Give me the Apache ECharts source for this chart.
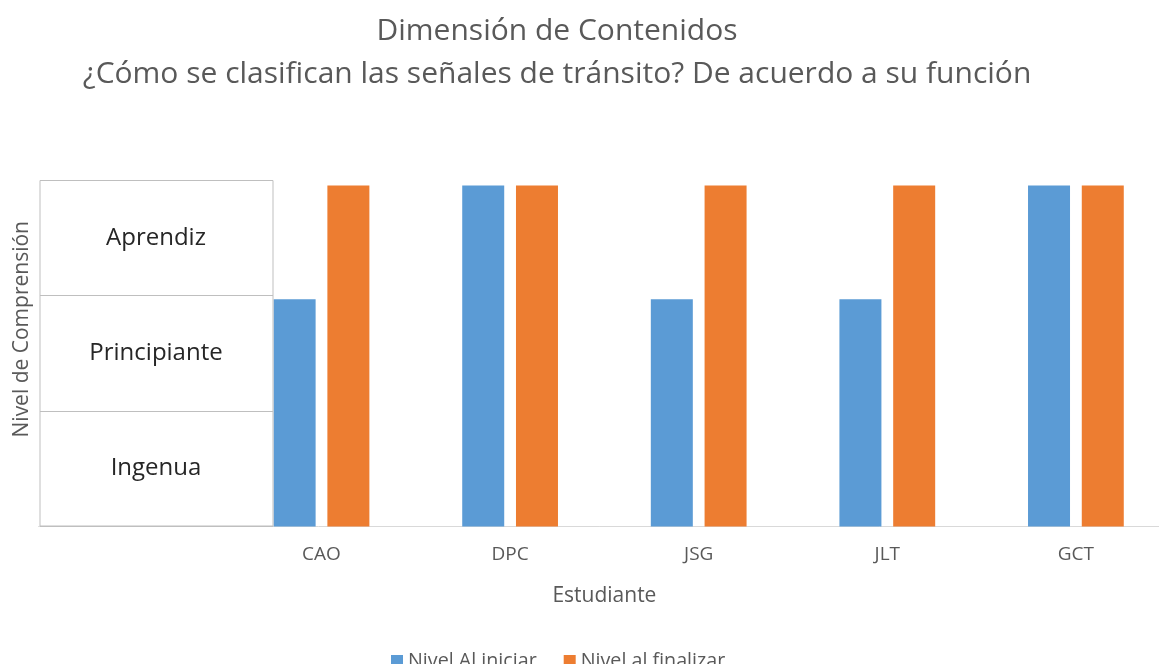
<!DOCTYPE html>
<html>
<head>
<meta charset="utf-8">
<script src="https://cdn.jsdelivr.net/npm/echarts@6/dist/echarts.min.js"></script>
<style>
html,body{margin:0;padding:0;background:#fff;}
#chart{width:1159px;height:664px;}
</style>
</head>
<body>
<div id="chart"></div>
<script>
// Data
const titleLines = ['Dimensión de Contenidos', '¿Cómo se clasifican las señales de tránsito? De acuerdo a su función'];
const students = ['CAO', 'DPC', 'JSG', 'JLT', 'GCT'];
const levels = ['Ingenua', 'Principiante', 'Aprendiz'];   // 1, 2, 3
const nivelInicial = [2, 3, 2, 2, 3];
const nivelFinal = [3, 3, 3, 3, 3];
const seriesNames = ['Nivel Al iniciar', 'Nivel al finalizar'];
const xName = 'Estudiante';
const yName = 'Nivel de Comprensión';

// The original axis has an empty first slot, covered by the level table
const xData = [''].concat(students);
const blueData = [null].concat(nivelInicial);
const orangeData = [null].concat(nivelFinal);

const FONT = 'Open Sans';
const chart = echarts.init(document.getElementById('chart'), null, {renderer: 'canvas'});
chart.setOption({
  animation: false,
  backgroundColor: '#ffffff',
  textStyle: {fontFamily: FONT},
  title: {
    text: titleLines.join('\n'),
    left: 552,
    top: 5,
    textAlign: 'center',
    textStyle: {fontFamily: FONT, fontSize: 30, fontWeight: 'normal', color: '#595959', lineHeight: 43}
  },
  legend: {
    data: seriesNames,
    left: 386,
    top: 646,
    icon: 'rect',
    itemWidth: 12,
    itemHeight: 12,
    itemGap: 27,
    textStyle: {fontFamily: FONT, fontSize: 19.7, color: '#595959'}
  },
  grid: [
    {left: 38.6, width: 1131.6, top: 185.5, height: 341, outerBoundsMode: 'none', containLabel: false},
    {left: 40, width: 233, top: 180.5, height: 345.5, outerBoundsMode: 'none', show: true, borderColor: '#bfbfbf', borderWidth: 1, backgroundColor: '#ffffff', z: 3}
  ],
  xAxis: [
    {
      gridIndex: 0, type: 'category', data: xData,
      axisTick: {show: false},
      axisLine: {lineStyle: {color: '#d9d9d9', width: 1}},
      axisLabel: {fontFamily: FONT, fontSize: 19, color: '#595959', margin: 19},
      name: xName, nameLocation: 'middle', nameGap: 59,
      nameTextStyle: {fontFamily: FONT, fontSize: 21, color: '#595959'}
    },
    {gridIndex: 1, type: 'value', show: false}
  ],
  yAxis: [
    {gridIndex: 0, type: 'value', min: 0, max: 3, show: false},
    {
      gridIndex: 1, type: 'category', data: levels,
      axisLine: {show: false}, axisTick: {show: false},
      splitLine: {show: true, lineStyle: {color: '#bfbfbf', width: 1}},
      axisLabel: {inside: true, align: 'center', margin: 116, fontFamily: FONT, fontSize: 24, color: '#262626'},
      name: yName, nameLocation: 'middle', nameGap: 7,
      nameTextStyle: {fontFamily: FONT, fontSize: 21, color: '#595959', padding: [0, 0, 0, 48]},
      z: 4
    }
  ],
  series: [
    {name: seriesNames[0], type: 'bar', xAxisIndex: 0, yAxisIndex: 0, data: blueData,
     barWidth: 42, barGap: '28%', itemStyle: {color: '#5B9BD5'}},
    {name: seriesNames[1], type: 'bar', xAxisIndex: 0, yAxisIndex: 0, data: orangeData,
     barWidth: 42, barGap: '28%', itemStyle: {color: '#ED7D31'}}
  ]
});
</script>
</body>
</html>
